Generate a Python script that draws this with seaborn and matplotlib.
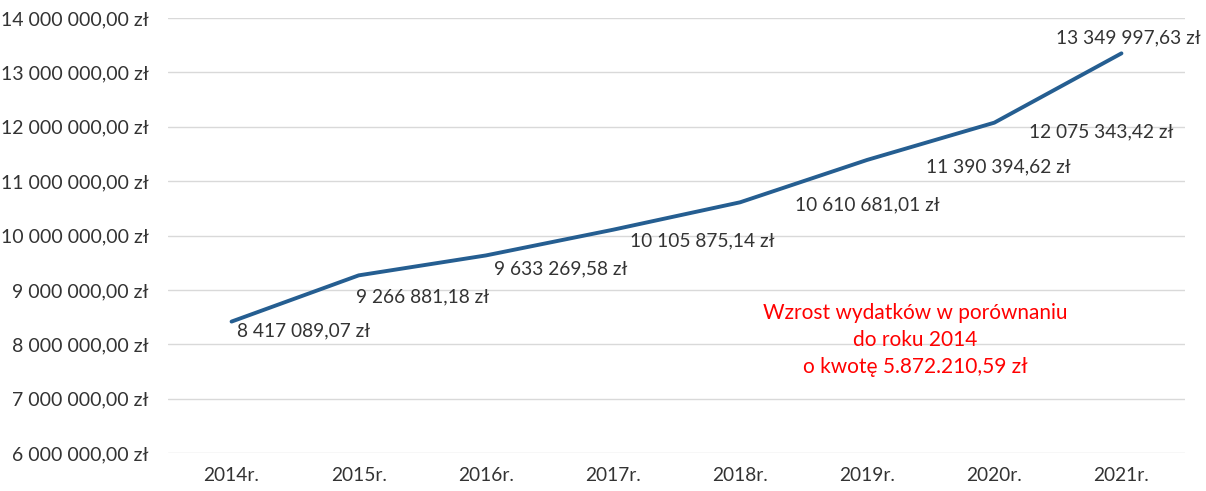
import numpy as np
import pandas as pd
import matplotlib.pyplot as plt
import seaborn as sns

# Data
years = ['2014r.', '2015r.', '2016r.', '2017r.', '2018r.', '2019r.', '2020r.', '2021r.']
expenses = [8417089.07, 9266881.18, 9633269.58, 10105875.14, 10610681.01, 11390394.62, 12075343.42, 13349997.63]
y_ticks = [6e6, 7e6, 8e6, 9e6, 10e6, 11e6, 12e6, 13e6, 14e6]
note_lines = ['Wzrost wydatków w porównaniu', 'do roku 2014', 'o kwotę 5.872.210,59 zł']

# label offsets in pixels (dx, dy) relative to each point
label_offsets = [(72, -9), (64, -22), (75, -13), (89, -11), (127, -3), (131, -7), (107, -9), (7, 15)]


def pln(v):
    s = f"{v:,.2f}".replace(',', ' ').replace('.', ',')
    return s + ' zł'


df = pd.DataFrame({'year': years, 'value': expenses})
df['pos'] = np.arange(len(years))

sns.set_theme(style='white')
plt.rcParams['font.family'] = ['Lato', 'DejaVu Sans']

fig = plt.figure(figsize=(12.06, 4.91), dpi=100)
ax = fig.add_axes([0.1393, 0.0774, 0.8433, 0.8859])

sns.lineplot(data=df, x='pos', y='value', color='#255E91', linewidth=2.8, ax=ax)

for (x, v, (dx, dy)) in zip(df['pos'], df['value'], label_offsets):
    ax.annotate(pln(v), (x, v), xytext=(dx * 0.72, dy * 0.72), textcoords='offset points',
                ha='center', va='center', fontsize=13.8, color='#333333')

ax.text(5.38, 8.08e6, '\n'.join(note_lines), ha='center', va='center', color='#FF0000',
        fontsize=15, linespacing=1.42)

ax.set_xlim(-0.5, len(years) - 0.5)
ax.set_ylim(6e6, 14e6)
ax.set_xticks(df['pos'])
ax.set_xticklabels(years)
ax.set_yticks(y_ticks)
ax.set_yticklabels([pln(v) for v in y_ticks])
ax.tick_params(axis='y', length=0, pad=14, labelsize=14, labelcolor='#333333')
ax.tick_params(axis='x', length=0, pad=10, labelsize=13.8, labelcolor='#333333')
ax.set_xlabel('')
ax.set_ylabel('')
ax.yaxis.grid(True, color='#D9D9D9', linewidth=1)
ax.xaxis.grid(False)
for s in ax.spines.values():
    s.set_visible(False)

fig.savefig('out.png', dpi=100)
